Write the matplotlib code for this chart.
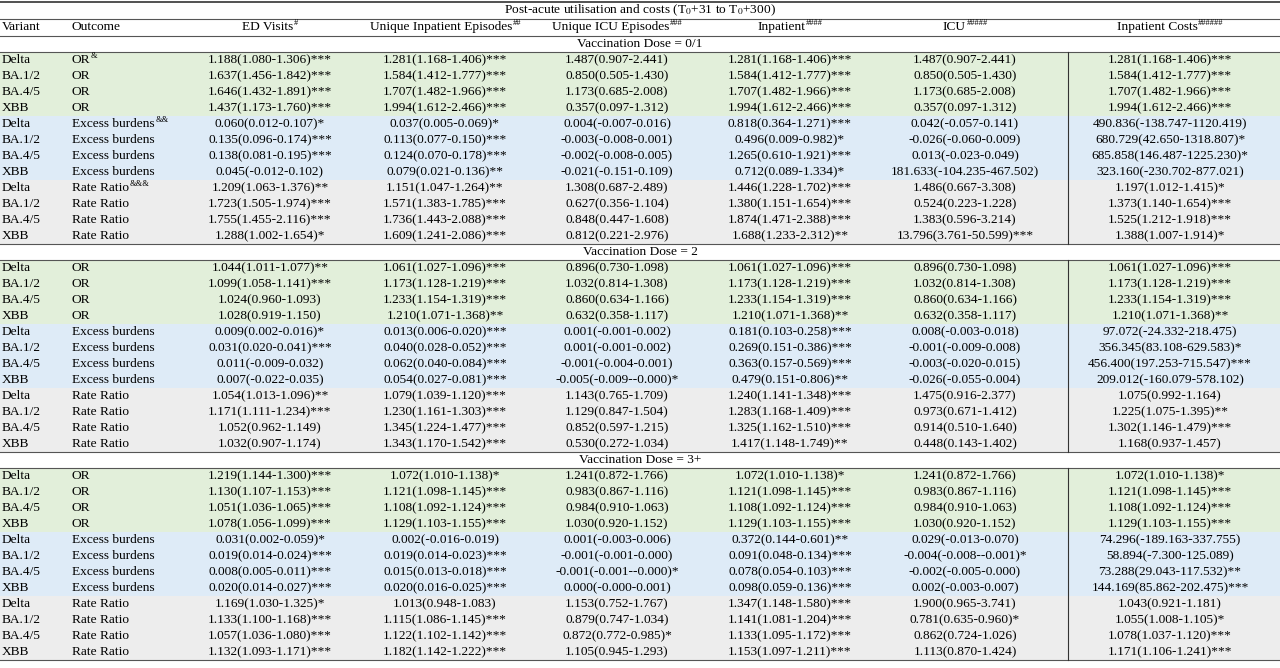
import matplotlib
matplotlib.use("Agg")
import matplotlib.pyplot as plt
from matplotlib.patches import Rectangle

plt.rcParams['font.family'] = ['Liberation Serif', 'DejaVu Serif']
plt.rcParams['mathtext.fontset'] = 'stix'

title = r"Post-acute utilisation and costs (T$_0$+31 to T$_0$+300)"
headers = [("ED Visits", "#"), ("Unique Inpatient Episodes", "##"), ("Unique ICU Episodes", "###"),
           ("Inpatient", "####"), ("ICU", "#####"), ("Inpatient Costs", "######")]
variants = ["Delta", "BA.1/2", "BA.4/5", "XBB"]
sections = ["Vaccination Dose = 0/1", "Vaccination Dose = 2", "Vaccination Dose = 3+"]
outcomes = ["OR", "Excess burdens", "Rate Ratio"]
outcome_sups = ["&", "&&", "&&&"]

s1_ed = ["1.188(1.080-1.306)***", "1.637(1.456-1.842)***", "1.646(1.432-1.891)***", "1.437(1.173-1.760)***",
         "0.060(0.012-0.107)*", "0.135(0.096-0.174)***", "0.138(0.081-0.195)***", "0.045(-0.012-0.102)",
         "1.209(1.063-1.376)**", "1.723(1.505-1.974)***", "1.755(1.455-2.116)***", "1.288(1.002-1.654)*"]
s1_uie = ["1.281(1.168-1.406)***", "1.584(1.412-1.777)***", "1.707(1.482-1.966)***", "1.994(1.612-2.466)***",
          "0.037(0.005-0.069)*", "0.113(0.077-0.150)***", "0.124(0.070-0.178)***", "0.079(0.021-0.136)**",
          "1.151(1.047-1.264)**", "1.571(1.383-1.785)***", "1.736(1.443-2.088)***", "1.609(1.241-2.086)***"]
s1_uicu = ["1.487(0.907-2.441)", "0.850(0.505-1.430)", "1.173(0.685-2.008)", "0.357(0.097-1.312)",
           "0.004(-0.007-0.016)", "-0.003(-0.008-0.001)", "-0.002(-0.008-0.005)", "-0.021(-0.151-0.109)",
           "1.308(0.687-2.489)", "0.627(0.356-1.104)", "0.848(0.447-1.608)", "0.812(0.221-2.976)"]
s1_inp = ["1.281(1.168-1.406)***", "1.584(1.412-1.777)***", "1.707(1.482-1.966)***", "1.994(1.612-2.466)***",
          "0.818(0.364-1.271)***", "0.496(0.009-0.982)*", "1.265(0.610-1.921)***", "0.712(0.089-1.334)*",
          "1.446(1.228-1.702)***", "1.380(1.151-1.654)***", "1.874(1.471-2.388)***", "1.688(1.233-2.312)**"]
s1_icu = ["1.487(0.907-2.441)", "0.850(0.505-1.430)", "1.173(0.685-2.008)", "0.357(0.097-1.312)",
          "0.042(-0.057-0.141)", "-0.026(-0.060-0.009)", "0.013(-0.023-0.049)", "181.633(-104.235-467.502)",
          "1.486(0.667-3.308)", "0.524(0.223-1.228)", "1.383(0.596-3.214)", "13.796(3.761-50.599)***"]
s1_cost = ["1.281(1.168-1.406)***", "1.584(1.412-1.777)***", "1.707(1.482-1.966)***", "1.994(1.612-2.466)***",
           "490.836(-138.747-1120.419)", "680.729(42.650-1318.807)*", "685.858(146.487-1225.230)*", "323.160(-230.702-877.021)",
           "1.197(1.012-1.415)*", "1.373(1.140-1.654)***", "1.525(1.212-1.918)***", "1.388(1.007-1.914)*"]

s2_ed = ["1.044(1.011-1.077)**", "1.099(1.058-1.141)***", "1.024(0.960-1.093)", "1.028(0.919-1.150)",
         "0.009(0.002-0.016)*", "0.031(0.020-0.041)***", "0.011(-0.009-0.032)", "0.007(-0.022-0.035)",
         "1.054(1.013-1.096)**", "1.171(1.111-1.234)***", "1.052(0.962-1.149)", "1.032(0.907-1.174)"]
s2_uie = ["1.061(1.027-1.096)***", "1.173(1.128-1.219)***", "1.233(1.154-1.319)***", "1.210(1.071-1.368)**",
          "0.013(0.006-0.020)***", "0.040(0.028-0.052)***", "0.062(0.040-0.084)***", "0.054(0.027-0.081)***",
          "1.079(1.039-1.120)***", "1.230(1.161-1.303)***", "1.345(1.224-1.477)***", "1.343(1.170-1.542)***"]
s2_uicu = ["0.896(0.730-1.098)", "1.032(0.814-1.308)", "0.860(0.634-1.166)", "0.632(0.358-1.117)",
           "0.001(-0.001-0.002)", "0.001(-0.001-0.002)", "-0.001(-0.004-0.001)", "-0.005(-0.009--0.000)*",
           "1.143(0.765-1.709)", "1.129(0.847-1.504)", "0.852(0.597-1.215)", "0.530(0.272-1.034)"]
s2_inp = ["1.061(1.027-1.096)***", "1.173(1.128-1.219)***", "1.233(1.154-1.319)***", "1.210(1.071-1.368)**",
          "0.181(0.103-0.258)***", "0.269(0.151-0.386)***", "0.363(0.157-0.569)***", "0.479(0.151-0.806)**",
          "1.240(1.141-1.348)***", "1.283(1.168-1.409)***", "1.325(1.162-1.510)***", "1.417(1.148-1.749)**"]
s2_icu = ["0.896(0.730-1.098)", "1.032(0.814-1.308)", "0.860(0.634-1.166)", "0.632(0.358-1.117)",
          "0.008(-0.003-0.018)", "-0.001(-0.009-0.008)", "-0.003(-0.020-0.015)", "-0.026(-0.055-0.004)",
          "1.475(0.916-2.377)", "0.973(0.671-1.412)", "0.914(0.510-1.640)", "0.448(0.143-1.402)"]
s2_cost = ["1.061(1.027-1.096)***", "1.173(1.128-1.219)***", "1.233(1.154-1.319)***", "1.210(1.071-1.368)**",
           "97.072(-24.332-218.475)", "356.345(83.108-629.583)*", "456.400(197.253-715.547)***", "209.012(-160.079-578.102)",
           "1.075(0.992-1.164)", "1.225(1.075-1.395)**", "1.302(1.146-1.479)***", "1.168(0.937-1.457)"]

s3_ed = ["1.219(1.144-1.300)***", "1.130(1.107-1.153)***", "1.051(1.036-1.065)***", "1.078(1.056-1.099)***",
         "0.031(0.002-0.059)*", "0.019(0.014-0.024)***", "0.008(0.005-0.011)***", "0.020(0.014-0.027)***",
         "1.169(1.030-1.325)*", "1.133(1.100-1.168)***", "1.057(1.036-1.080)***", "1.132(1.093-1.171)***"]
s3_uie = ["1.072(1.010-1.138)*", "1.121(1.098-1.145)***", "1.108(1.092-1.124)***", "1.129(1.103-1.155)***",
          "0.002(-0.016-0.019)", "0.019(0.014-0.023)***", "0.015(0.013-0.018)***", "0.020(0.016-0.025)***",
          "1.013(0.948-1.083)", "1.115(1.086-1.145)***", "1.122(1.102-1.142)***", "1.182(1.142-1.222)***"]
s3_uicu = ["1.241(0.872-1.766)", "0.983(0.867-1.116)", "0.984(0.910-1.063)", "1.030(0.920-1.152)",
           "0.001(-0.003-0.006)", "-0.001(-0.001-0.000)", "-0.001(-0.001--0.000)*", "0.000(-0.000-0.001)",
           "1.153(0.752-1.767)", "0.879(0.747-1.034)", "0.872(0.772-0.985)*", "1.105(0.945-1.293)"]
s3_inp = ["1.072(1.010-1.138)*", "1.121(1.098-1.145)***", "1.108(1.092-1.124)***", "1.129(1.103-1.155)***",
          "0.372(0.144-0.601)**", "0.091(0.048-0.134)***", "0.078(0.054-0.103)***", "0.098(0.059-0.136)***",
          "1.347(1.148-1.580)***", "1.141(1.081-1.204)***", "1.133(1.095-1.172)***", "1.153(1.097-1.211)***"]
s3_icu = ["1.241(0.872-1.766)", "0.983(0.867-1.116)", "0.984(0.910-1.063)", "1.030(0.920-1.152)",
          "0.029(-0.013-0.070)", "-0.004(-0.008--0.001)*", "-0.002(-0.005-0.000)", "0.002(-0.003-0.007)",
          "1.900(0.965-3.741)", "0.781(0.635-0.960)*", "0.862(0.724-1.026)", "1.113(0.870-1.424)"]
s3_cost = ["1.072(1.010-1.138)*", "1.121(1.098-1.145)***", "1.108(1.092-1.124)***", "1.129(1.103-1.155)***",
           "74.296(-189.163-337.755)", "58.894(-7.300-125.089)", "73.288(29.043-117.532)**", "144.169(85.862-202.475)***",
           "1.043(0.921-1.181)", "1.055(1.008-1.105)*", "1.078(1.037-1.120)***", "1.171(1.106-1.241)***"]

data = [[s1_ed, s1_uie, s1_uicu, s1_inp, s1_icu, s1_cost],
        [s2_ed, s2_uie, s2_uicu, s2_inp, s2_icu, s2_cost],
        [s3_ed, s3_uie, s3_uicu, s3_inp, s3_icu, s3_cost]]

W, H = 1280, 668
fig = plt.figure(figsize=(W / 100, H / 100), dpi=100)
ax = fig.add_axes([0, 0, 1, 1])
ax.set_xlim(0, W)
ax.set_ylim(H, 0)
ax.axis('off')
renderer = fig.canvas.get_renderer()

fs = 9.6
sfs = 6.0
col_x = [270, 445, 617, 790, 965, 1170]
grp_colors = ['#e2efda', '#deebf7', '#ededed']
step = 16.0


def text_w(s, size):
    t = ax.text(0, 0, s, fontsize=size)
    w = t.get_window_extent(renderer).width
    t.remove()
    return w  # pixels == data units here


def sup_text(x, y, base, sup, ha='left'):
    wb = text_w(base, fs)
    ws = text_w(sup, sfs)
    x0 = x - (wb + ws) / 2 if ha == 'center' else x
    ax.text(x0, y, base, ha='left', va='center', fontsize=fs)
    ax.text(x0 + wb + 0.5, y - 4, sup, ha='left', va='center', fontsize=sfs)


ax.text(640, 10, title, ha='center', va='center', fontsize=fs)
ax.text(2, 27, "Variant", ha='left', va='center', fontsize=fs)
ax.text(72, 27, "Outcome", ha='left', va='center', fontsize=fs)
for x, (h, sp) in zip(col_x, headers):
    sup_text(x, 27, h, sp, ha='center')

lw = 0.8
ax.plot([0, W], [2, 2], color='#333', lw=1.2)
ax.plot([0, W], [19, 19], color='#555', lw=lw)
ax.plot([0, W], [36, 36], color='#555', lw=lw)

for s, sec in enumerate(sections):
    ys = 44 + s * 13 * step
    ax.text(640, ys, sec, ha='center', va='center', fontsize=fs)
    top = ys + step / 2
    ax.plot([0, W], [top, top], color='#555', lw=lw)
    for i in range(12):
        y = ys + (i + 1) * step
        g = i // 4
        ax.add_patch(Rectangle((0, y - step / 2), W, step, facecolor=grp_colors[g], edgecolor='none', zorder=0))
        ax.text(2, y, variants[i % 4], ha='left', va='center', fontsize=fs)
        if i % 4 == 0 and s == 0:
            sup_text(72, y, outcomes[g], outcome_sups[g])
        else:
            ax.text(72, y, outcomes[g], ha='left', va='center', fontsize=fs)
        for c in range(6):
            ax.text(col_x[c], y, data[s][c][i], ha='center', va='center', fontsize=fs)
    bot = ys + 12.5 * step
    ax.plot([0, W], [bot, bot], color='#555', lw=lw)
    ax.plot([1068, 1068], [top, bot], color='#333', lw=lw)

fig.savefig("out.png", dpi=100)
